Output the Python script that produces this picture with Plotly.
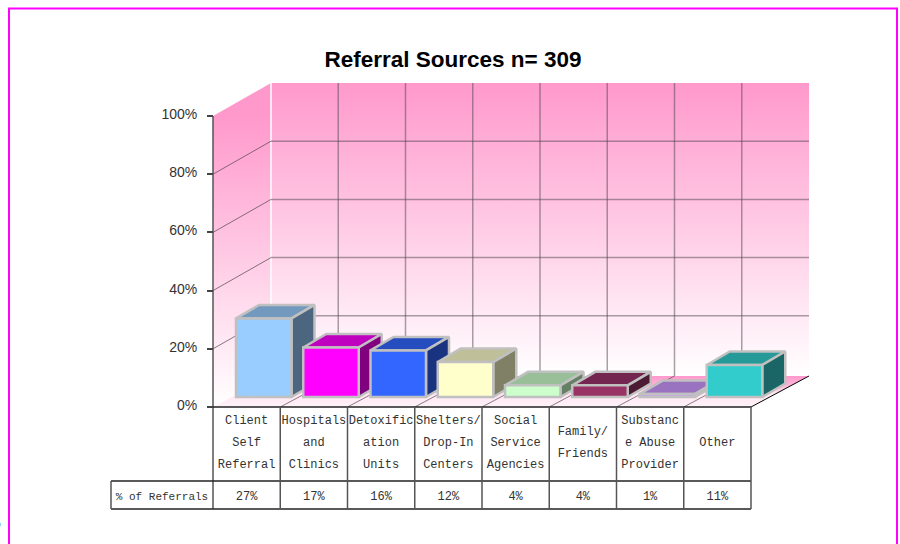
import plotly.graph_objects as go

# ---- data ----
category_lines = [
    ["Client", "Self", "Referral"],
    ["Hospitals", "and", "Clinics"],
    ["Detoxific", "ation", "Units"],
    ["Shelters/", "Drop-In", "Centers"],
    ["Social", "Service", "Agencies"],
    ["Family/", "Friends"],
    ["Substanc", "e Abuse", "Provider"],
    ["Other"],
]
values = [27, 17, 16, 12, 4, 4, 1, 11]
row_title = "% of Referrals"
tick_values = [0, 20, 40, 60, 80, 100]
chart_title = "Referral Sources n= 309"

face_colors = ["#99ccff", "#ff00ff", "#3366ff", "#ffffcc", "#ccffcc", "#993366", "#cc99ff", "#33cccc"]
top_colors = ["#7399bf", "#bf00bf", "#264dbf", "#bfbf99", "#99bf99", "#732650", "#9973bf", "#269999"]
side_colors = ["#4d6680", "#800080", "#1a3380", "#808066", "#668066", "#4d1a33", "#664d80", "#1a6666"]
edge_color = "#c0c0c0"

# ---- geometry (pixels of the 900x544 page) ----
W, H = 900, 544
X0_PX, Y0_PX = 213, 407      # front-left corner of the floor
PX_PER_CAT, PX_PER_PCT = 67.25, 2.91
N = len(values)


def dx(px):
    return px / PX_PER_CAT


def dy(px):
    return px / PX_PER_PCT


WALL_DX, WALL_DY, FLOOR_DY = dx(58), dy(33), dy(31)
BAR_LEFT, BAR_W = dx(23), dx(55.5)
BAR_BASE = dy(10)
DEPTH_X, DEPTH_Y = dx(23), dy(13.5)
TOP = 100 + WALL_DY

fig = go.Figure()


def poly(xs, ys, **kw):
    fig.add_trace(go.Scatter(x=xs, y=ys, mode="lines", hoverinfo="skip", showlegend=False, **kw))


def seg(xs, ys, color, width):
    poly(xs, ys, line=dict(color=color, width=width))


# floor
poly([0, N, N + WALL_DX, WALL_DX, 0], [0, 0, FLOOR_DY, FLOOR_DY, 0],
     fill="toself", line=dict(width=0),
     fillgradient=dict(type="vertical", start=0, stop=FLOOR_DY,
                       colorscale=[[0, "#fff2f9"], [0.45, "#ffe6f2"], [0.7, "#ffb3d9"], [1, "#ff99cc"]]))
# side and back walls
wall_scale = [[0, "#ffffff"], [1, "#ff99cc"]]
poly([0, WALL_DX, WALL_DX, 0, 0], [0, FLOOR_DY, TOP, 100, 0],
     fill="toself", line=dict(width=0),
     fillgradient=dict(type="vertical", start=0, stop=100, colorscale=wall_scale))
poly([WALL_DX, N + WALL_DX, N + WALL_DX, WALL_DX, WALL_DX], [FLOOR_DY, FLOOR_DY, TOP, TOP, FLOOR_DY],
     fill="toself", line=dict(width=0),
     fillgradient=dict(type="vertical", start=FLOOR_DY, stop=TOP, colorscale=wall_scale))
seg([WALL_DX, WALL_DX], [FLOOR_DY, TOP], "#ffffff", 1.5)

# grid lines
grid = "rgba(80,70,80,0.5)"
for t in tick_values[1:-1]:
    seg([0, WALL_DX], [t, t + WALL_DY], "rgba(80,70,80,0.7)", 1)
    seg([WALL_DX, N + WALL_DX], [t + WALL_DY, t + WALL_DY], grid, 1.5)
for i in range(1, N):
    seg([i + WALL_DX, i + WALL_DX], [FLOOR_DY, TOP], grid, 1.5)
    seg([i, i + WALL_DX], [0, FLOOR_DY], "rgba(90,70,85,0.7)", 1)
seg([N, N + WALL_DX], [0, FLOOR_DY], "#000000", 1)

# bars
for i, v in enumerate(values):
    left = i + BAR_LEFT
    right = left + BAR_W
    top = BAR_BASE + v
    z = 2 * i + 1
    poly([left, right, right + DEPTH_X, left + DEPTH_X, left],
         [top, top, top + DEPTH_Y, top + DEPTH_Y, top],
         fill="toself", fillcolor=top_colors[i], line=dict(color=edge_color, width=2.5), zorder=z)
    poly([right, right + DEPTH_X, right + DEPTH_X, right, right],
         [BAR_BASE, BAR_BASE + DEPTH_Y, top + DEPTH_Y, top, BAR_BASE],
         fill="toself", fillcolor=side_colors[i], line=dict(color=edge_color, width=2.5), zorder=z)
    fig.add_trace(go.Bar(x=[(left + right) / 2], y=[v], base=[BAR_BASE], width=[BAR_W],
                         marker=dict(color=face_colors[i], line=dict(color=edge_color, width=2.5)),
                         hoverinfo="skip", showlegend=False, zorder=z + 1))

# front axis line and data table
axis_color = "#555555"
Z_T = 2 * N + 5
row1 = dy(-74)
row2 = dy(-102)
seg([0, 0], [row2, 100], axis_color, 1.5)
seg([0, N], [0, 0], "#222222", 1.5)
seg([dx(-102), N], [row1, row1], "#222222", 1.5)
seg([dx(-102), N], [row2, row2], "#222222", 1.5)
seg([dx(-102), dx(-102)], [row1, row2], axis_color, 1.5)
for i in range(1, N + 1):
    seg([i, i], [0, row2], axis_color, 1.5)

tx, ty, tt = [], [], []
LINE = dy(-22)
MID = dy(-36)
for i, lines in enumerate(category_lines):
    n = len(lines)
    for k, s in enumerate(lines):
        tx.append(i + 0.5)
        ty.append(MID + (k - (n - 1) / 2) * LINE)
        tt.append(s)
for i, v in enumerate(values):
    tx.append(i + 0.5)
    ty.append(dy(-90))
    tt.append(f"{v}%")
fig.add_trace(go.Scatter(x=tx, y=ty, text=tt, mode="text", textposition="middle center",
                         textfont=dict(family="Liberation Mono", size=12, color="#333333"),
                         hoverinfo="skip", showlegend=False, zorder=Z_T))
fig.add_trace(go.Scatter(x=[dx(-51)], y=[dy(-90)], text=[row_title], mode="text", textposition="middle center",
                         textfont=dict(family="Liberation Mono", size=11, color="#333333"),
                         hoverinfo="skip", showlegend=False, zorder=Z_T))

fig.update_layout(
    width=W, height=H, margin=dict(l=0, r=0, t=0, b=0),
    paper_bgcolor="#ffffff", plot_bgcolor="rgba(0,0,0,0)",
    barmode="overlay", showlegend=False, hovermode=False,
    title=dict(text=f"<b>{chart_title}</b>", x=453 / W, xanchor="center", y=1 - 59 / H, yanchor="middle",
               font=dict(family="Liberation Sans", size=22.5, color="#000000")),
    xaxis=dict(visible=False, range=[dx(-X0_PX), dx(W - X0_PX)], fixedrange=True),
    yaxis=dict(range=[dy(Y0_PX - H), dy(Y0_PX)], fixedrange=True, anchor="free", position=X0_PX / W,
               showgrid=False, zeroline=False, showline=False,
               tickmode="array", tickvals=tick_values, ticktext=[f"{t}%" for t in tick_values],
               ticks="outside", ticklen=6, tickwidth=1.5, tickcolor="#444444",
               ticklabelstandoff=7, ticklabelshift=-2,
               tickfont=dict(family="Liberation Sans", size=14, color="#333333")),
    shapes=[dict(type="rect", xref="paper", yref="paper", x0=9 / W, x1=897 / W, y0=-0.05, y1=1 - 8.5 / H,
                 line=dict(color="#ff00ff", width=2), fillcolor="rgba(0,0,0,0)")],
    annotations=[dict(text="5", xref="paper", yref="paper", x=3 / W, y=1 - 523 / H, xanchor="right",
                      yanchor="middle", showarrow=False, font=dict(family="Liberation Sans", size=14, color="#222222"))],
)
fig.write_html("out.html", config=dict(displayModeBar=False),
               post_script="document.body.style.margin='0';document.body.style.overflow='hidden';")
